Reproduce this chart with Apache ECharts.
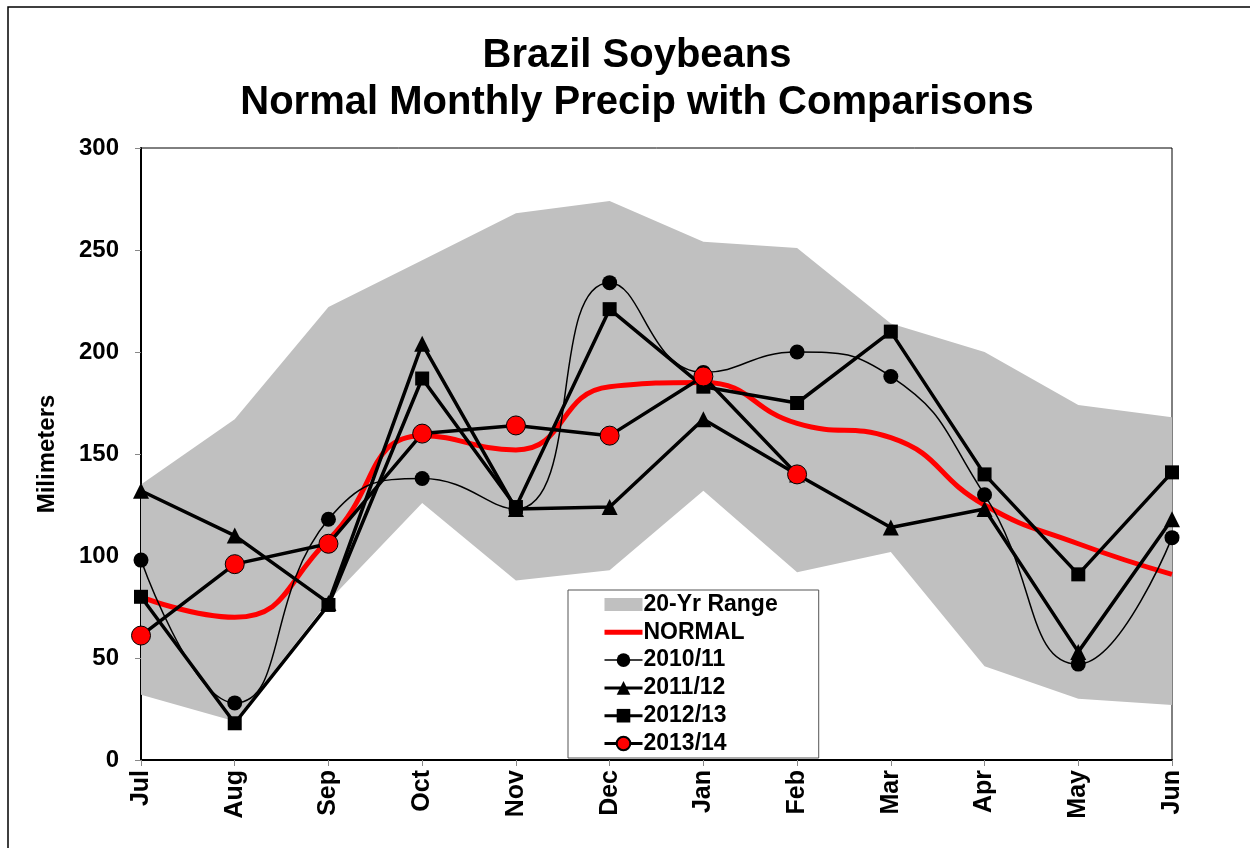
<!DOCTYPE html>
<html><head><meta charset="utf-8">
<script src="https://cdn.jsdelivr.net/npm/echarts@6/dist/echarts.min.js"></script>
<style>html,body{margin:0;padding:0;background:#fff}#c{width:1250px;height:848px}</style>
</head><body><div id="c"></div>
<script>
const months = ['Jul','Aug','Sep','Oct','Nov','Dec','Jan','Feb','Mar','Apr','May','Jun'];
const rangeLow  = [32, 19, 78, 126, 88, 93, 132, 92, 102, 46, 30, 27];
const rangeHigh = [135, 167, 222, 245, 268, 274, 254, 251, 214, 200, 174, 168];
const normal    = [80, 70, 108, 159, 152, 183, 185, 165, 158, 125, 106, 91];
const y2010 = [98, 28, 118, 138, 123, 234, 190, 200, 188, 130, 47, 109];
const y2011 = [132, 110, 77, 204, 123, 124, 167, 140, 114, 123, 53, 118];
const y2012 = [80, 18, 76, 187, 124, 221, 183, 175, 210, 140, 91, 141];
const y2013 = [61, 96, 106, 160, 164, 159, 188, 140, null, null, null, null];
const yTicks = [0, 50, 100, 150, 200, 250, 300];

const rangeSpan = rangeHigh.map((h, i) => h - rangeLow[i]);
const F = 'Liberation Sans, Arial, sans-serif';

const chart = echarts.init(document.getElementById('c'));
chart.setOption({
  animation: false,
  backgroundColor: '#fff',
  title: {
    text: 'Brazil Soybeans\nNormal Monthly Precip with Comparisons',
    left: 632, top: 27, textAlign: 'center',
    textStyle: { fontFamily: F, fontWeight: 'bold', fontSize: 40, lineHeight: 47, color: '#000' }
  },
  graphic: [{
    type: 'rect', shape: { x: 8, y: 7, width: 1300, height: 900 },
    style: { fill: 'none', stroke: '#000', lineWidth: 1.5 }, silent: true, z: -1
  }],
  legend: {
    orient: 'vertical', left: 568, top: 590,
    backgroundColor: '#fff', borderColor: '#555', borderWidth: 1,
    padding: [3, 41, 3, 35],
    itemGap: 4.8, itemWidth: 38, itemHeight: 17,
    textStyle: { fontFamily: F, fontWeight: 'bold', fontSize: 23, lineHeight: 23, color: '#000', padding: [0, 0, 0, -4] },
    data: [
      { name: '20-Yr Range', icon: 'path://M0,0H38V13H0Z' },
      { name: 'NORMAL', icon: 'path://M0,0H38V5H0Z' },
      { name: '2010/11', lineStyle: { width: 1.5 } },
      { name: '2011/12', lineStyle: { width: 3 } },
      { name: '2012/13', lineStyle: { width: 3 } },
      { name: '2013/14', lineStyle: { width: 3 } }
    ]
  },
  grid: { left: 141, right: 78, top: 148, bottom: 88, show: true, borderColor: '#000', borderWidth: 1, backgroundColor: 'transparent' },
  xAxis: {
    type: 'category', data: months, boundaryGap: false,
    axisLine: { lineStyle: { color: '#000', width: 2 } },
    axisTick: { show: true, alignWithLabel: true, length: 6, lineStyle: { color: '#888' } },
    axisLabel: { rotate: 90, fontFamily: F, fontWeight: 'bold', fontSize: 25, color: '#000', margin: 10 },
    splitLine: { show: false }
  },
  yAxis: {
    type: 'value', min: yTicks[0], max: yTicks[yTicks.length - 1], interval: 50,
    name: 'Milimeters', nameLocation: 'middle', nameGap: 82, nameRotate: 90,
    nameTextStyle: { fontFamily: F, fontWeight: 'bold', fontSize: 24, color: '#000' },
    axisLine: { show: true, lineStyle: { color: '#000', width: 2 } },
    axisTick: { show: true, length: 6, lineStyle: { color: '#888' } },
    axisLabel: { fontFamily: F, fontWeight: 'bold', fontSize: 24, color: '#000', margin: 22 },
    splitLine: { show: false }
  },
  series: [
    { name: 'low', type: 'line', data: rangeLow, stack: 'range', symbol: 'none',
      lineStyle: { width: 0, opacity: 0 }, silent: true, z: 1 },
    { name: '20-Yr Range', type: 'line', data: rangeSpan, stack: 'range', symbol: 'none',
      lineStyle: { width: 0, opacity: 0 }, areaStyle: { color: '#c0c0c0', opacity: 1 },
      itemStyle: { color: '#c0c0c0' }, silent: true, z: 1 },
    { name: 'NORMAL', type: 'line', data: normal, smooth: 0.5, symbol: 'none',
      lineStyle: { color: '#ff0000', width: 5 }, itemStyle: { color: '#ff0000' }, z: 2 },
    { name: '2010/11', type: 'line', data: y2010, smooth: 0.5, symbol: 'circle', symbolSize: 15,
      lineStyle: { color: '#000', width: 1.5 }, itemStyle: { color: '#000' }, z: 3 },
    { name: '2011/12', type: 'line', data: y2011, symbol: 'triangle', symbolSize: 16,
      lineStyle: { color: '#000', width: 3.5 }, itemStyle: { color: '#000' }, z: 4 },
    { name: '2012/13', type: 'line', data: y2012, symbol: 'rect', symbolSize: 14,
      lineStyle: { color: '#000', width: 3.5 }, itemStyle: { color: '#000' }, z: 5 },
    { name: '2013/14', type: 'line', data: y2013, symbol: 'circle', symbolSize: 19,
      lineStyle: { color: '#000', width: 3.5 },
      itemStyle: { color: '#ff0000', borderColor: '#000', borderWidth: 1 }, z: 6 }
  ]
});
</script></body></html>
